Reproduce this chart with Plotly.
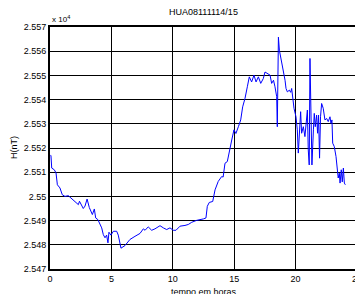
import plotly.graph_objects as go

# time (hours) and H (x 10^4 nT)
hours = [0.0, 0.08, 0.14, 0.35, 0.49, 0.6, 0.81, 1.0, 1.22, 1.49, 1.71, 2.04, 2.31, 2.4, 2.58, 2.71, 2.85,
         3.02, 3.2, 3.33, 3.45, 3.61, 3.72, 3.9, 4.04, 4.21, 4.34, 4.48, 4.61, 4.72, 4.8, 4.96, 5.16, 5.43,
         5.56, 5.7, 5.78, 6.11, 6.51, 6.92, 7.33, 7.6, 7.74, 8.0, 8.28, 8.55, 8.96, 9.23, 9.5, 9.77, 10.04,
         10.26, 10.59, 10.99, 11.26, 11.54, 11.94, 12.49, 12.7, 12.81, 12.97, 13.25, 13.44, 13.7, 13.98,
         14.1, 14.25, 14.44, 14.66, 14.8, 14.98, 15.14, 15.34, 15.53, 15.69, 15.88, 16.07, 16.23, 16.42,
         16.61, 16.78, 16.97, 17.16, 17.37, 17.51, 17.7, 17.92, 18.05, 18.2, 18.32, 18.46, 18.51, 18.6,
         18.68, 18.78, 18.95, 19.07, 19.14, 19.22, 19.33, 19.49, 19.6, 19.68, 19.76, 19.87, 20.03, 20.14,
         20.22, 20.3, 20.41, 20.49, 20.63, 20.76, 20.85, 20.96, 21.03, 21.11, 21.17, 21.25, 21.33, 21.45,
         21.52, 21.6, 21.71, 21.79, 21.87, 21.95, 22.03, 22.12, 22.25, 22.39, 22.53, 22.66, 22.8, 22.88,
         22.96, 23.02, 23.15, 23.29, 23.4, 23.47, 23.56, 23.62, 23.72, 23.8, 23.89, 23.97, 24.05]
h_values = [2.55172, 2.55168, 2.55117, 2.5511, 2.55097, 2.55048, 2.55035, 2.55007, 2.55, 2.55003,
            2.54993, 2.54979, 2.54966, 2.5498, 2.54959, 2.5495, 2.5496,
            2.54989, 2.54954, 2.5494, 2.54925, 2.54948, 2.54911, 2.54904, 2.54891, 2.5487, 2.54842,
            2.54829, 2.5484, 2.54808, 2.54852, 2.5484, 2.54856, 2.54856,
            2.5484, 2.54794, 2.54786, 2.54797, 2.54822, 2.54835, 2.54847, 2.54866, 2.5486, 2.54874,
            2.5486, 2.54866, 2.54879, 2.5487, 2.54863, 2.5487, 2.5486,
            2.5486, 2.54877, 2.5488, 2.54884, 2.54893, 2.54901, 2.54907, 2.54911, 2.54959, 2.54975,
            2.54979, 2.55027, 2.55062, 2.55082,
            2.5508, 2.55137, 2.55144, 2.55206, 2.55233, 2.55275, 2.5526, 2.55288, 2.55316, 2.5537,
            2.55405, 2.55453, 2.55494, 2.55473,
            2.55501, 2.55473, 2.55494, 2.55467, 2.55487, 2.55514, 2.55507, 2.55501, 2.55467, 2.5548,
            2.55453, 2.55412, 2.55288, 2.55658,
            2.55604, 2.55576, 2.55535, 2.55508, 2.5548, 2.55446, 2.55432, 2.55439, 2.5543, 2.55446,
            2.55412, 2.55364, 2.55329, 2.55275,
            2.55179, 2.55275, 2.5535, 2.55261, 2.55288, 2.55247, 2.55288, 2.55357, 2.55192, 2.5513,
            2.5557, 2.55275, 2.5513, 2.55275,
            2.55343, 2.55288, 2.55336, 2.55261, 2.55336, 2.55158, 2.55329, 2.55384, 2.55364, 2.55316,
            2.55322, 2.55309, 2.55329, 2.55302,
            2.55316, 2.5522, 2.55206, 2.55165, 2.5511, 2.55076, 2.55096, 2.55055, 2.5511, 2.5506,
            2.55117, 2.55055, 2.55048]

y_ticks = [2.547, 2.548, 2.549, 2.550, 2.551, 2.552, 2.553, 2.554, 2.555, 2.556, 2.557]
y_tick_labels = ["2.547", "2.548", "2.549", "2.55", "2.551", "2.552", "2.553", "2.554", "2.555", "2.556", "2.557"]
x_ticks = [0, 5, 10, 15, 20, 25]

FAM = "Liberation Sans, Arial, sans-serif"
font = dict(family=FAM, size=9, color="black")

fig = go.Figure()
fig.add_trace(go.Scatter(x=hours, y=h_values, mode="lines",
                         line=dict(color="#0000ff", width=1), showlegend=False))

# page body has an 8px default margin, so the figure is 8px smaller and shifted
fig.update_layout(
    width=355, height=286,
    margin=dict(l=42, r=6, t=19, b=25, autoexpand=False),
    paper_bgcolor="white", plot_bgcolor="white",
    font=font,
    xaxis=dict(range=[0, 25], tickvals=x_ticks, showgrid=True, gridcolor="black", gridwidth=1,
               showline=True, linecolor="black", linewidth=2, mirror=True, zeroline=False,
               ticks="", tickfont=font, automargin=False),
    yaxis=dict(range=[2.547, 2.557], tickvals=y_ticks, ticktext=y_tick_labels, showgrid=True,
               gridcolor="black", gridwidth=1, showline=True, linecolor="black", linewidth=2,
               mirror=True, zeroline=False, ticks="", tickfont=font, automargin=False),
    annotations=[
        dict(text="HUA08111114/15", xref="paper", yref="paper", x=0.5, y=1.0, yshift=8,
             xanchor="center", yanchor="bottom", showarrow=False, font=font),
        dict(text="x 10<sup>4</sup>", xref="paper", yref="paper", x=0, y=1.0, yshift=1,
             xanchor="left", yanchor="bottom", showarrow=False,
             font=dict(family=FAM, size=8, color="black")),
        dict(text="H(nT)", xref="paper", yref="paper", x=0, y=0.5, xshift=-36,
             xanchor="center", yanchor="middle", textangle=-90, showarrow=False, font=font),
        dict(text="tempo em horas", xref="paper", yref="paper", x=0.5, y=0, yshift=-16,
             xanchor="center", yanchor="top", showarrow=False, font=font),
    ],
)

fig.write_html("out.html")
